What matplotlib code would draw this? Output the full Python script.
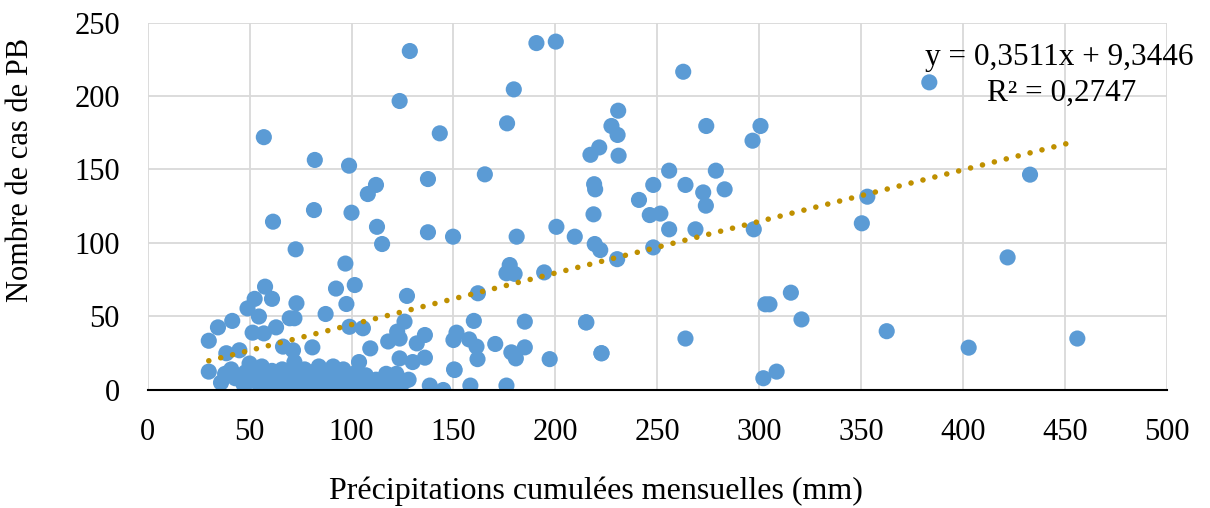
import matplotlib.pyplot as plt

plt.rcParams['font.family'] = ['Liberation Serif', 'DejaVu Serif']

# monthly cumulated rainfall (mm) vs number of PB cases
rain_upper = [57, 61.5, 72.6, 82, 81.6, 98.8, 100, 108, 112, 112.5, 115, 123.6, 128.6,
              137.5, 137.5, 143.3, 149.8, 165.4, 176.3, 179.6, 181, 190.7, 200.2, 200.5,
              194.5, 176, 177.6, 180, 209.5, 217.2, 219, 219.5, 218.7, 219.3, 221.5, 222,
              227.5, 230.5, 230.8, 231, 230.3, 241, 246.3, 248, 248, 251.5, 255.8, 255.8,
              262.7, 263.8, 268.7, 272.5, 273.8, 274, 278.7, 283, 296.7, 297.3, 300.6,
              350.3, 353, 383.4, 432.8, 421.8, 456, 402.7, 362.5, 320.7, 315.5, 303, 305,
              302, 308.5, 263.8, 222.6, 215.2, 197.2]
cases_upper = [172, 114.5, 95.7, 156.5, 122.4, 152.6, 120.6, 133.3, 139.5, 111, 99.3, 196.6,
               230.6, 143.5, 107.3, 174.6, 104.3, 146.7, 181.4, 204.5, 104.3, 236, 237, 111,
               80, 79.4, 85, 79, 104.3, 160, 140, 136.5, 119.5, 99.3, 165, 95.2,
               179.6, 173.5, 190, 159.4, 89, 129.3, 119, 139.5, 97, 120, 149.2, 109.3,
               216.5, 139.5, 109.3, 134.4, 125.4, 179.6, 149.2, 136.5, 169.6, 109.3, 179.6,
               113.4, 131.5, 209.3, 146.5, 90.2, 35, 28.8, 40, 48, 66.2, 58.3, 58.3,
               8, 12.5, 35, 25, 46, 21]

rain_mid = [30, 34.5, 41.5, 30, 49, 52.5, 57.6, 61, 54.6, 51.5, 57, 63, 73, 72, 69.7,
            45, 38.6, 66.4, 71.3, 80.8, 87.3, 92.4, 97, 97.5, 99, 105.6, 109.2, 103.7,
            118, 72, 101.6, 127.2, 126, 122.4, 123.6, 136, 132, 151.5, 150, 160, 157.7,
            161.3, 161.8, 170.5, 150.6, 136, 130, 123.6, 162, 178.4, 185, 180.6, 185,
            215, 222.6]
cases_mid = [33.5, 42.6, 47, 12.5, 55.5, 62, 70.3, 62, 50, 39, 38.5, 42.6, 59, 48.8, 48.8,
             27, 25, 29.5, 27, 29, 51.7, 69, 86, 58.5, 43, 42, 28.3, 19,
             33, 19, 71.4, 64, 46.5, 39.7, 35, 37.4, 31.7, 39, 34, 47, 34.4,
             29.5, 21, 31.3, 13.6, 22, 19, 21.5, 65.8, 25.6, 29, 21.5, 46.5,
             46, 25]

rain_low = [36, 38, 41, 43, 47, 48, 50, 50, 52, 53, 55, 56, 57, 58, 60, 61, 63, 64, 65,
            66, 68, 69, 70, 71, 73, 74, 75, 76, 77, 78, 79, 80, 81, 82, 83, 84, 85, 86,
            87, 88, 89, 90, 91, 92, 93, 94, 95, 96, 97, 98, 100, 101, 102, 103, 105, 106,
            107, 109, 110, 112, 113, 115, 116, 117, 118, 119, 120, 121, 122, 124, 126,
            128, 138.4, 145, 158.3, 176, 150.3]
cases_low = [5, 11, 14, 8, 4, 12, 6, 18, 9, 14, 3, 16, 11, 7, 2, 13, 5, 9, 1,
             14, 4, 8, 12, 0, 6, 2, 10, 0, 14, 5, 9, 2, 12, 0, 7, 16, 4, 10,
             1, 13, 6, 3, 16, 9, 0, 12, 5, 14, 8, 2, 6, 11, 0, 4, 8, 2,
             10, 5, 1, 7, 3, 4, 0, 11, 6, 4, 9, 2, 11, 1, 6,
             7, 3, 0, 3, 3, 14]

rain = rain_upper + rain_mid + rain_low
cases = cases_upper + cases_mid + cases_low

slope = 0.3511
intercept = 9.3446
trend_x = [30, 455]
trend_y = [slope * x + intercept for x in trend_x]

fig, ax = plt.subplots(figsize=(12.1, 5.08), dpi=100)
fig.subplots_adjust(left=0.122, right=0.9645, top=0.9557, bottom=0.2323)

ax.scatter(rain, cases, s=135, color='#5B9BD5', edgecolors='none', zorder=3)
ax.plot(trend_x, trend_y, color='#BF9000', linestyle=(0, (0.01, 2.2)), linewidth=4,
        dash_capstyle='round', zorder=4)

ax.set_xlim(0, 500)
ax.set_ylim(0, 250)
ax.set_xticks(range(0, 501, 50))
ax.set_yticks(range(0, 251, 50))
ax.grid(True, color='#D9D9D9', linewidth=1.3, zorder=0)
ax.set_axisbelow(True)
for side in ['top', 'right', 'left']:
    ax.spines[side].set_visible(False)
ax.spines['bottom'].set_color('black')
ax.spines['bottom'].set_linewidth(1.5)
ax.spines['bottom'].set_zorder(5)
ax.tick_params(axis='both', length=0, labelsize=22)
ax.tick_params(axis='x', pad=20)
ax.tick_params(axis='y', pad=20)

ax.set_xlabel('Précipitations cumulées mensuelles (mm)', fontsize=23)
ax.set_ylabel('Nombre de cas de PB', fontsize=22)
ax.xaxis.set_label_coords(0.44, -0.235)
ax.yaxis.set_label_coords(-0.110, 0.6)

ax.text(0.894, 0.906, 'y = 0,3511x + 9,3446', transform=ax.transAxes, fontsize=22.5,
        ha='center', va='center')
ax.text(0.897, 0.808, 'R² = 0,2747', transform=ax.transAxes, fontsize=22.5,
        ha='center', va='center')

plt.savefig('out.png', dpi=100)
